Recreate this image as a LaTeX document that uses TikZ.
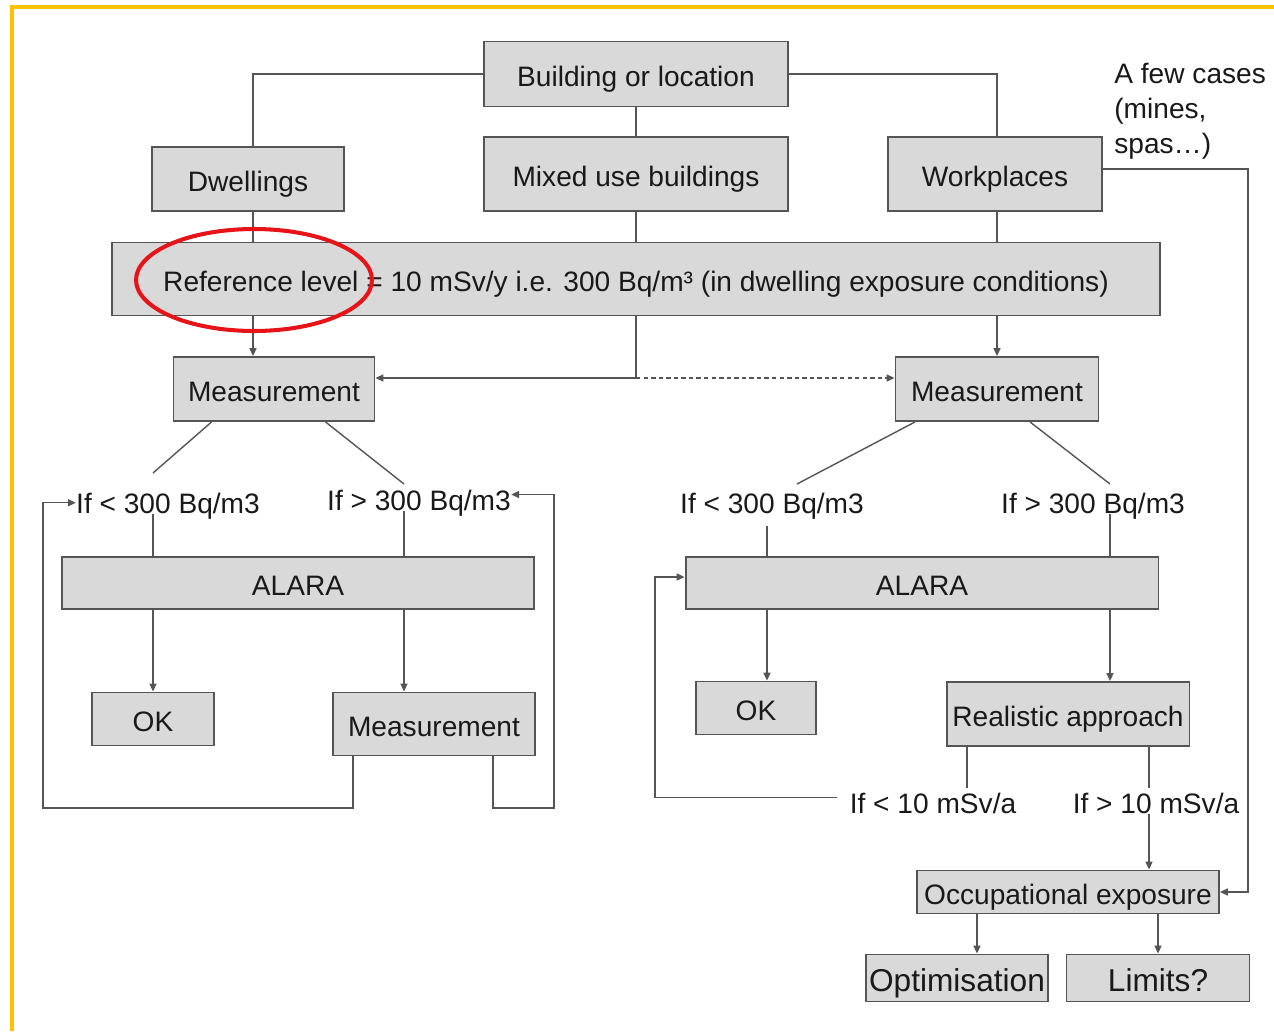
\documentclass[tikz,border=0pt]{standalone}
\usepackage{fontspec}
\setmainfont{Liberation Sans}
\usetikzlibrary{arrows.meta}
\definecolor{boxfill}{RGB}{217,217,217}
\definecolor{edgegray}{RGB}{85,85,85}
\definecolor{frameyellow}{RGB}{255,192,0}
\definecolor{ringred}{RGB}{230,20,25}
\tikzset{
  box/.style={draw=edgegray, fill=boxfill, line width=1.1pt, inner sep=0pt, text height=14pt, text depth=0pt, text=black!90, font=\fontsize{16}{19}\selectfont},
  cond/.style={inner sep=0pt, text height=14pt, text depth=0pt, text=black!90, font=\fontsize{16}{19}\selectfont},
  conn/.style={draw=edgegray, line width=0.8pt},
  arr/.style={conn, -{Triangle[length=4.5pt,width=4pt]}},
}
\begin{document}
\begin{tikzpicture}[x=0.02cm, y=-0.02cm]

\useasboundingbox (0,0) rectangle (1274,1031) ;

%frame
\draw [frameyellow, line width=2.2pt] (12,1031) -- (12,7) -- (1274,7) ;

%top row
\node [box, minimum width=6.08cm, minimum height=1.30cm] (build) at (636,74) {Building or location} ;
\node [box, minimum width=3.84cm, minimum height=1.28cm] (dwell) at (248,179) {Dwellings} ;
\node [box, minimum width=6.08cm, minimum height=1.48cm] (mixed) at (636,174) {Mixed use buildings} ;
\node [box, minimum width=4.28cm, minimum height=1.48cm] (work) at (995,174) {Workplaces} ;
\node [inner sep=0pt, text=black!90, anchor=north west, align=left, font=\fontsize{16}{20}\selectfont] (few) at (1114,63) {A few cases\\(mines,\\spas…)} ;

%reference level
\node [box, minimum width=20.96cm, minimum height=1.46cm] (ref) at (636,279) {Reference level = 10 mSv/y i.e. 300 Bq/m³ (in dwelling exposure conditions)} ;

%measurements
\node [box, minimum width=4.02cm, minimum height=1.28cm] (meas1) at (274,389) {Measurement} ;
\node [box, minimum width=4.06cm, minimum height=1.28cm] (meas2) at (997,389) {Measurement} ;

%conditions
\node [cond] (lt1) at (168,501) {If < 300 Bq/m3} ;
\node [cond] (gt1) at (419,498) {If > 300 Bq/m3} ;
\node [cond] (lt2) at (772,501) {If < 300 Bq/m3} ;
\node [cond] (gt2) at (1093,501) {If > 300 Bq/m3} ;

%alara and below
\node [box, minimum width=9.46cm, minimum height=1.04cm] (alara1) at (298,583) {ALARA} ;
\node [box, minimum width=9.46cm, minimum height=1.04cm] (alara2) at (922,583) {ALARA} ;
\node [box, minimum width=2.44cm, minimum height=1.06cm] (ok1) at (153,719) {OK} ;
\node [box, minimum width=4.04cm, minimum height=1.26cm] (meas3) at (434,724) {Measurement} ;
\node [box, minimum width=2.40cm, minimum height=1.06cm] (ok2) at (756,708) {OK} ;
\node [box, minimum width=4.86cm, minimum height=1.28cm] (real) at (1068,714) {Realistic approach} ;
\node [cond] (lt3) at (933,801) {If < 10 mSv/a} ;
\node [cond] (gt3) at (1156,801) {If > 10 mSv/a} ;

%occupational
\node [box, minimum width=6.04cm, minimum height=0.86cm] (occ) at (1068,892) {Occupational exposure} ;
\node [box, minimum width=3.64cm, minimum height=0.94cm, text height=15pt, font=\fontsize{18}{21}\selectfont] (opt) at (957,978) {Optimisation} ;
\node [box, minimum width=3.66cm, minimum height=0.94cm, text height=15pt, font=\fontsize{18}{21}\selectfont] (lim) at (1158,978) {Limits?} ;

%columns and bends
\coordinate (colA) at (253,0) ;
\coordinate (colM) at (636,0) ;
\coordinate (colW) at (997,0) ;
\coordinate (split) at (636,378) ;
\coordinate (side) at (1248,169) ;
\coordinate (lt1top) at (153,473) ;
\coordinate (gt1top) at (404,484) ;
\coordinate (lt2top) at (797,484) ;
\coordinate (gt2top) at (1110,484) ;
\coordinate (colL2) at (767,526) ;
\coordinate (colR1) at (967,0) ;
\coordinate (colR2) at (1149,0) ;
\coordinate (colO) at (977,0) ;
\coordinate (loopA) at (43,808) ;
\coordinate (loopB) at (554,808) ;
\coordinate (loopC) at (655,577) ;

%top connectors
\draw [conn] (build.west) -| (dwell.north -| colA) ;
\draw [conn] (build.east) -| (work.north -| colW) ;
\draw [conn] (build.south) -- (mixed.north) ;
\draw [conn] (dwell.south -| colA) -- (ref.north -| colA) ;
\draw [conn] (mixed.south) -- (ref.north -| mixed.south) ;
\draw [conn] (work.south -| colW) -- (ref.north -| colW) ;

%to measurements
\draw [arr] (ref.south -| colA) -- (meas1.north -| colA) ;
\draw [conn] (ref.south -| colM) -- (split) ;
\draw [arr] (split) -- (meas1.east |- split) ;
\draw [arr, dash pattern=on 2.5pt off 1.8pt] (split) -- (meas2.west |- split) ;
\draw [arr] (ref.south -| colW) -- (meas2.north -| colW) ;
\draw [arr] (work.east |- side) -- (side) |- (occ.east) ;

%branches
\draw [conn] ([xshift=0.78cm]meas1.south west) -- (lt1top) ;
\draw [conn] ([xshift=3.06cm]meas1.south west) -- (gt1top) ;
\draw [conn] ([xshift=0.41cm]meas2.south west) -- (lt2top) ;
\draw [conn] ([xshift=2.71cm]meas2.south west) -- (gt2top) ;
\draw [conn] (lt1.south -| lt1top) -- (alara1.north -| lt1top) ;
\draw [conn] (gt1.south -| gt1top) -- (alara1.north -| gt1top) ;
\draw [conn] (colL2) -- (alara2.north -| colL2) ;
\draw [conn] (gt2.south -| gt2top) -- (alara2.north -| gt2top) ;

%out of alara
\draw [arr] (alara1.south -| ok1.north) -- (ok1.north) ;
\draw [arr] (alara1.south -| gt1top) -- (meas3.north -| gt1top) ;
\draw [arr] (alara2.south -| colL2) -- (ok2.north -| colL2) ;
\draw [arr] (alara2.south -| gt2top) -- (real.north -| gt2top) ;

%loops
\draw [arr] ([xshift=0.42cm]meas3.south west) |- (loopA) |- ([yshift=-1pt]lt1.west) ;
\draw [arr] ([xshift=3.22cm]meas3.south west) |- (loopB) |- ([yshift=2pt]gt1.east) ;
\draw [arr] ([xshift=-0.24cm, yshift=2pt]lt3.west) -| (loopC) -- (alara2.west |- loopC) ;

%realistic approach
\draw [conn] (real.south -| colR1) -- (lt3.north -| colR1) ;
\draw [conn] (real.south -| colR2) -- (gt3.north -| colR2) ;
\draw [arr] (gt3.south -| colR2) -- (occ.north -| colR2) ;
\draw [arr] (occ.south -| colO) -- (opt.north -| colO) ;
\draw [arr] (occ.south -| lim.north) -- (lim.north) ;

%highlight
\draw [ringred, line width=2.3pt] (254,280) ellipse [x radius=2.36cm, y radius=1.02cm] ;

\end{tikzpicture}
\end{document}
